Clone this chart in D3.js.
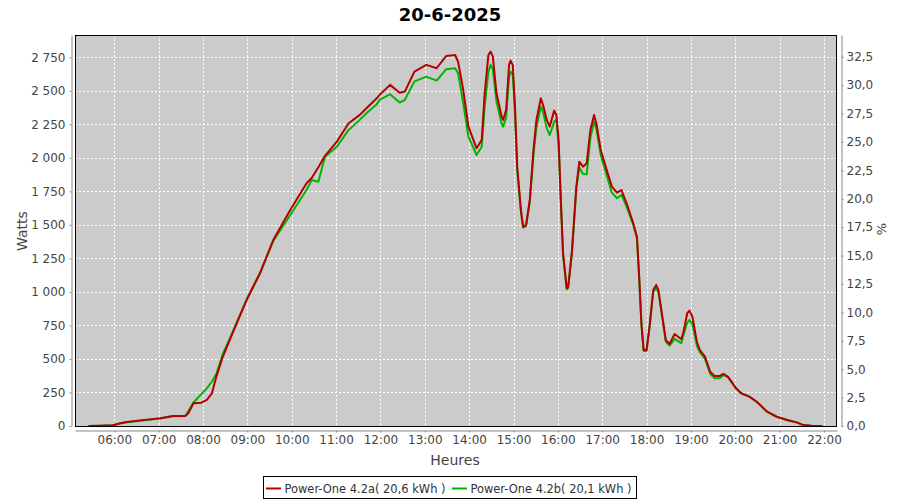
<!DOCTYPE html>
<html>
<head>
<meta charset="utf-8">
<script src="https://cdn.jsdelivr.net/npm/d3@7"></script>
<style>
  html, body { margin: 0; padding: 0; background: #ffffff; }
  svg { display: block; font-family: "DejaVu Sans", sans-serif; }
</style>
</head>
<body>
<svg id="chart" width="900" height="500"></svg>
<script>
// ---------- data ----------
const title = "20-6-2025";
const xLabel = "Heures";
const yLabelLeft = "Watts";
const yLabelRight = "%";
const seriesNames = ["Power-One 4.2a( 20,6 kWh )", "Power-One 4.2b( 20,1 kWh )"];
const seriesColors = ["#b40000", "#00b400"];

const times = [
  "05:25","05:41","05:58","06:08","06:17","06:35","07:02","07:19","07:36","07:40",
  "07:47","07:58","08:05","08:12","08:18","08:27","08:36","08:59","09:17","09:35",
  "09:58","10:20","10:27","10:36","10:45","11:01","11:17","11:32","11:41","11:55",
  "11:59","12:13","12:26","12:33","12:46","13:02","13:16","13:29","13:41","13:45",
  "13:52","13:59","14:10","14:17","14:21","14:26","14:29","14:32","14:37","14:44",
  "14:46","14:50","14:54","14:56","14:59","15:02","15:05","15:10","15:13","15:17",
  "15:22","15:27","15:31","15:37","15:40","15:45","15:49","15:55","15:58","16:01",
  "16:04","16:07","16:12","16:14","16:19","16:25","16:29","16:34","16:39","16:44",
  "16:49","16:52","16:58","17:06","17:13","17:20","17:26","17:33","17:42","17:47",
  "17:50","17:53","17:56","18:00","18:04","18:09","18:13","18:16","18:22","18:26",
  "18:31","18:38","18:47","18:50","18:55","18:58","19:02","19:08","19:12","19:19",
  "19:26","19:32","19:39","19:44","19:50","20:01","20:08","20:19","20:29","20:43",
  "20:56","21:10","21:23","21:32","21:43","21:58"
];
const wattsA = [
  0,2,5,20,30,42,57,75,75,95,
  170,174,194,244,368,520,641,940,1139,1387,
  1611,1810,1850,1930,2015,2121,2258,2320,2370,2444,
  2470,2544,2486,2494,2643,2693,2668,2760,2767,2717,
  2506,2233,2071,2133,2481,2767,2792,2755,2481,2307,
  2283,2357,2693,2725,2693,2382,1934,1611,1487,1499,
  1686,2059,2283,2444,2394,2283,2233,2352,2320,2133,
  1686,1288,1027,1039,1300,1785,1971,1934,1959,2208,
  2320,2258,2059,1910,1785,1740,1760,1661,1512,1412,
  1114,766,567,567,741,1014,1052,1014,791,641,
  612,686,647,703,841,860,815,630,567,517,
  405,373,373,388,368,281,244,219,181,107,
  69,45,27,7,1,0
];
const wattsB = [
  0,2,5,18,28,40,55,72,75,110,
  175,240,280,330,390,542,650,945,1139,1380,
  1574,1760,1835,1822,2009,2083,2208,2283,2333,2400,
  2432,2475,2412,2432,2570,2606,2576,2661,2668,2631,
  2407,2158,2021,2083,2382,2643,2693,2660,2420,2250,
  2233,2300,2600,2643,2620,2330,1910,1600,1480,1490,
  1670,2020,2230,2382,2340,2220,2170,2270,2283,2100,
  1680,1280,1020,1030,1290,1770,1930,1880,1877,2150,
  2270,2220,2020,1870,1740,1698,1723,1636,1500,1400,
  1100,760,560,560,735,1000,1027,1000,780,630,
  600,650,617,680,770,791,760,600,550,500,
  390,356,356,380,365,281,244,219,181,107,
  69,45,27,7,1,0
];
const hourTicks = ["06:00","07:00","08:00","09:00","10:00","11:00","12:00","13:00","14:00",
  "15:00","16:00","17:00","18:00","19:00","20:00","21:00","22:00"];
const leftTicks = [0,250,500,750,1000,1250,1500,1750,2000,2250,2500,2750];
const rightTicks = [0,2.5,5,7.5,10,12.5,15,17.5,20,22.5,25,27.5,30,32.5];

// ---------- layout ----------
const plot = { left: 75, top: 35, right: 837, bottom: 426 };
const toDate = s => { const [h, m] = s.split(":").map(Number); return new Date(2025, 5, 20, h, m); };

const x = d3.scaleTime()
  .domain([new Date(2025,5,20,5,6,48), new Date(2025,5,20,22,17,36)])
  .range([plot.left, plot.right]);
const yL = d3.scaleLinear().domain([0, 2916]).range([plot.bottom, plot.top]);
const yR = d3.scaleLinear().domain([0, 34.41]).range([plot.bottom, plot.top]);

const loc = d3.formatLocale({ decimal: ",", thousands: " ", grouping: [3], currency: ["", ""] });
const fmtL = loc.format(",d");
const fmtR = loc.format(".1f");

const svg = d3.select("#chart");

// title
svg.append("text").attr("x", 450).attr("y", 21).attr("text-anchor", "middle")
  .attr("font-size", 18).attr("font-weight", "bold").attr("fill", "#000").text(title);

// plot background
svg.append("rect").attr("x", plot.left).attr("y", plot.top)
  .attr("width", plot.right - plot.left).attr("height", plot.bottom - plot.top)
  .attr("fill", "#cbcbcb");

// gridlines
const grid = svg.append("g").attr("stroke", "#ffffff").attr("stroke-width", 1)
  .attr("stroke-dasharray", "2,2").attr("shape-rendering", "crispEdges");
hourTicks.forEach(t => {
  const xx = Math.round(x(toDate(t))) + 0.5;
  grid.append("line").attr("x1", xx).attr("x2", xx).attr("y1", plot.top).attr("y2", plot.bottom);
});
leftTicks.forEach(v => {
  if (v === 0) return;
  const yy = Math.round(yL(v)) + 0.5;
  grid.append("line").attr("x1", plot.left).attr("x2", plot.right).attr("y1", yy).attr("y2", yy);
});

// lines
const pts = vals => times.map((t, i) => [toDate(t), vals[i]]);
const line = d3.line().x(d => x(d[0])).y(d => yL(d[1]));
[wattsB, wattsA].forEach((vals, k) => {
  const color = k === 0 ? seriesColors[1] : seriesColors[0];
  svg.append("path").datum(pts(vals)).attr("d", line)
    .attr("fill", "none").attr("stroke", color).attr("stroke-width", 2)
    .attr("stroke-linejoin", "round");
});

// plot border
svg.append("rect").attr("x", plot.left + 0.5).attr("y", plot.top + 0.5)
  .attr("width", plot.right - plot.left - 1).attr("height", plot.bottom - plot.top)
  .attr("fill", "none").attr("stroke", "#000").attr("stroke-width", 1);

// axes
function styleAxis(g) {
  g.selectAll(".domain").attr("stroke", "#888");
  g.selectAll(".tick line").attr("stroke", "#888");
  g.selectAll(".tick text").attr("fill", "#444").attr("font-size", 12)
    .attr("font-family", "DejaVu Sans, sans-serif");
}
const xAxis = d3.axisBottom(x).tickValues(hourTicks.map(toDate))
  .tickFormat(d3.timeFormat("%H:%M")).tickSizeInner(2).tickSizeOuter(0).tickPadding(3);
svg.append("g").attr("transform", `translate(0,${plot.bottom + 4.5})`).call(xAxis).call(styleAxis);

const yAxisL = d3.axisLeft(yL).tickValues(leftTicks).tickFormat(fmtL)
  .tickSizeInner(2).tickSizeOuter(0).tickPadding(4);
svg.append("g").attr("transform", `translate(${plot.left - 3.5},0)`).call(yAxisL).call(styleAxis);

const yAxisR = d3.axisRight(yR).tickValues(rightTicks).tickFormat(fmtR)
  .tickSizeInner(2).tickSizeOuter(0).tickPadding(3);
svg.append("g").attr("transform", `translate(${plot.right + 4.5},0)`).call(yAxisR).call(styleAxis);

// axis labels
svg.append("text").attr("x", 455).attr("y", 465).attr("text-anchor", "middle")
  .attr("font-size", 14).attr("fill", "#444").text(xLabel);
svg.append("text").attr("transform", "translate(27,231) rotate(-90)").attr("text-anchor", "middle")
  .attr("font-size", 14).attr("fill", "#444").text(yLabelLeft);
svg.append("text").attr("transform", "translate(886,229) rotate(-90)").attr("text-anchor", "middle")
  .attr("font-size", 13).attr("fill", "#444").text(yLabelRight);

// legend
const lg = svg.append("g");
lg.append("rect").attr("x", 263.5).attr("y", 476.5).attr("width", 373).attr("height", 22)
  .attr("fill", "#fff").attr("stroke", "#000");
const legendX = [266, 452];
seriesNames.forEach((name, i) => {
  lg.append("line").attr("x1", legendX[i]).attr("x2", legendX[i] + 15)
    .attr("y1", 488.5).attr("y2", 488.5).attr("stroke", seriesColors[i]).attr("stroke-width", 2);
  lg.append("text").attr("x", legendX[i] + 18.5).attr("y", 492.5).attr("font-size", 12)
    .attr("textLength", 161).attr("lengthAdjust", "spacingAndGlyphs")
    .attr("fill", "#333").text(name);
});
</script>
</body>
</html>
